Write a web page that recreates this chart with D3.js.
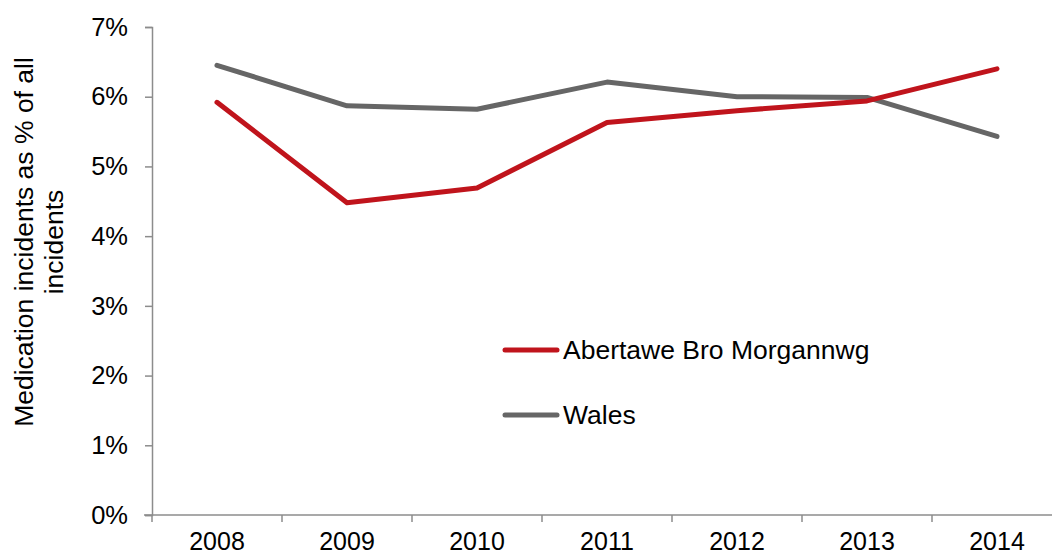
<!DOCTYPE html>
<html>
<head>
<meta charset="utf-8">
<script src="https://cdn.jsdelivr.net/npm/d3@7"></script>
<style>
  html, body { margin: 0; padding: 0; background: #fff; }
  svg { display: block; font-family: "Liberation Sans", Arial, sans-serif; }
</style>
</head>
<body>
<svg id="chart" width="1052" height="555"></svg>
<script>
// Medication incidents as a share of all incidents, by year
const years = ["2008", "2009", "2010", "2011", "2012", "2013", "2014"];
const abmValues = [5.92, 4.48, 4.69, 5.63, 5.80, 5.94, 6.40];
const walesValues = [6.45, 5.87, 5.82, 6.21, 6.00, 5.99, 5.43];
const yTicks = [0, 1, 2, 3, 4, 5, 6, 7];
const seriesNames = ["Abertawe Bro Morgannwg", "Wales"];
const seriesColors = ["#C0141C", "#666666"];

const svg = d3.select("#chart");
const margin = { left: 152, right: -10, top: 27, bottom: 40 };
const W = 1052, H = 555;

const x = d3.scaleBand()
  .domain(years)
  .range([margin.left, W - margin.right])
  .paddingInner(0).paddingOuter(0);

const y = d3.scaleLinear()
  .domain([0, 7])
  .range([H - margin.bottom, margin.top]);

const axisColor = "#8c8c8c";

// Y axis
const yAxis = svg.append("g")
  .attr("transform", `translate(${margin.left},0)`)
  .call(d3.axisLeft(y).tickValues(yTicks).tickFormat(d => d + "%").tickSize(7).tickPadding(17));
yAxis.select(".domain").attr("stroke", axisColor).attr("stroke-width", 1.5);
yAxis.selectAll(".tick line").attr("stroke", axisColor).attr("stroke-width", 1.5);
yAxis.selectAll(".tick text")
  .attr("fill", "#000").attr("font-size", 25.5)
  .attr("font-family", "Liberation Sans, Arial, sans-serif");

// X axis with ticks on category boundaries
const xAxisG = svg.append("g")
  .attr("transform", `translate(0,${y(0)})`);
xAxisG.append("line")
  .attr("x1", margin.left - 8).attr("x2", W - margin.right)
  .attr("stroke", axisColor).attr("stroke-width", 1.5);
xAxisG.selectAll(".xtick")
  .data(years)
  .join("line")
  .attr("class", "xtick")
  .attr("x1", d => x(d)).attr("x2", d => x(d))
  .attr("y1", 0).attr("y2", 7)
  .attr("stroke", axisColor).attr("stroke-width", 1.5);
xAxisG.selectAll(".xlabel")
  .data(years)
  .join("text")
  .attr("class", "xlabel")
  .attr("x", d => x(d) + x.bandwidth() / 2)
  .attr("y", 35)
  .attr("text-anchor", "middle")
  .attr("font-size", 25)
  .attr("fill", "#000")
  .text(d => d);

// Y axis title (two lines, rotated)
const title = svg.append("text")
  .attr("transform", "translate(33,242) rotate(-90)")
  .attr("text-anchor", "middle")
  .attr("font-size", 26.5)
  .attr("fill", "#000");
title.append("tspan").attr("x", 0).attr("y", 0).text("Medication incidents as % of all");
title.append("tspan").attr("x", 0).attr("y", 30).text("incidents");

// Lines
const line = d3.line()
  .x((d, i) => x(years[i]) + x.bandwidth() / 2)
  .y(d => y(d));

[walesValues, abmValues].forEach((vals, k) => {
  const idx = k === 0 ? 1 : 0;
  svg.append("path")
    .datum(vals)
    .attr("d", line)
    .attr("fill", "none")
    .attr("stroke", seriesColors[idx])
    .attr("stroke-width", 5)
    .attr("stroke-linejoin", "round")
    .attr("stroke-linecap", "round");
});

// Legend
const legend = svg.append("g").attr("transform", "translate(505,350)");
seriesNames.forEach((name, i) => {
  const g = legend.append("g").attr("transform", `translate(0,${i * 65})`);
  g.append("line")
    .attr("x1", 0).attr("x2", 52)
    .attr("stroke", seriesColors[i])
    .attr("stroke-width", 5)
    .attr("stroke-linecap", "round");
  g.append("text")
    .attr("x", 58).attr("y", 9)
    .attr("font-size", 26.5)
    .attr("fill", "#000")
    .text(name);
});
</script>
</body>
</html>
